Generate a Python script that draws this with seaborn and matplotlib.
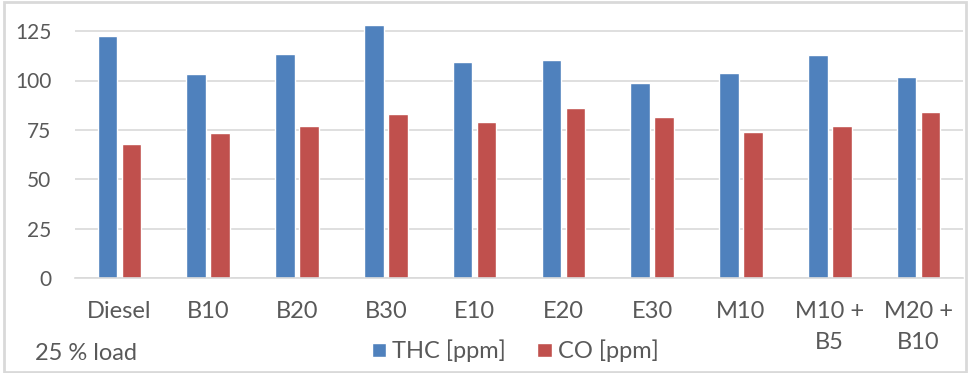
import matplotlib
matplotlib.use("Agg")
from matplotlib import pyplot as plt
from matplotlib.patches import Rectangle
import seaborn as sns
import pandas as pd

# Werte
fuels = ['Diesel', 'B10', 'B20', 'B30', 'E10', 'E20', 'E30', 'M10', 'M10 +\nB5', 'M20 +\nB10']
thc_ppm = [122.6, 103.1, 113.6, 127.9, 109.5, 110.2, 98.6, 103.8, 112.9, 101.8]
co_ppm = [68.0, 73.3, 77.2, 82.9, 79.0, 86.3, 81.7, 73.8, 77.2, 84.2]
series_names = ['THC [ppm]', 'CO [ppm]']
y_ticks = [0, 25, 50, 75, 100, 125]

df = pd.DataFrame({
    'fuel': fuels * 2,
    'value': thc_ppm + co_ppm,
    'series': [series_names[0]] * len(fuels) + [series_names[1]] * len(fuels),
})

sns.set_style('white')
plt.rcParams['font.family'] = ['Lato', 'DejaVu Sans']
text_col = '#595959'
grid_col = '#D9D9D9'

# Achsenbereich: 0 bei y=278.3 px, 1.978 px pro Einheit
y_top = 130
px_unit = 1.978
y0 = 278.3
ax_h = y_top * px_unit

fig = plt.figure(figsize=(9.7, 3.73), dpi=100)
ax = fig.add_axes([75 / 970, 1 - y0 / 373, 888 / 970, ax_h / 373])

sns.barplot(data=df, x='fuel', y='value', hue='series', order=fuels,
            hue_order=series_names, palette=['#4F81BD', '#C0504D'],
            width=0.54, gap=0.18, ax=ax, saturation=1, legend=True)

ax.set_ylim(0, y_top)
ax.set_xlim(-0.5, len(fuels) - 0.5)
ax.set_yticks(y_ticks)
ax.yaxis.grid(True, color=grid_col, linewidth=1.2)
ax.set_axisbelow(True)
for s in ['top', 'right', 'left']:
    ax.spines[s].set_visible(False)
ax.spines['bottom'].set_color(grid_col)
ax.spines['bottom'].set_linewidth(1.2)
ax.tick_params(axis='both', length=0, colors=text_col)
ax.tick_params(axis='y', pad=17, labelsize=15)
ax.tick_params(axis='x', pad=16, labelsize=17)
for lab in ax.get_xticklabels():
    lab.set_linespacing(1.6)
ax.set_xlabel('')
ax.set_ylabel('')

ax.legend(loc='center', bbox_to_anchor=(515 / 970, 1 - 351 / 373),
          bbox_transform=fig.transFigure, ncol=2, frameon=False,
          fontsize=17, labelcolor=text_col, handlelength=0.6, handleheight=0.55,
          handletextpad=0.25, columnspacing=1.35, borderpad=0, borderaxespad=0)

fig.text(35 / 970, 1 - 353 / 373, '25 % load', color=text_col, fontsize=17,
         va='center', ha='left')

# grauer Rahmen um das ganze Diagramm
fig.patches.append(Rectangle((0.004, 0.004), 0.992, 0.99, transform=fig.transFigure,
                             fill=False, edgecolor=grid_col, linewidth=2))

fig.savefig('out.png', dpi=100)
